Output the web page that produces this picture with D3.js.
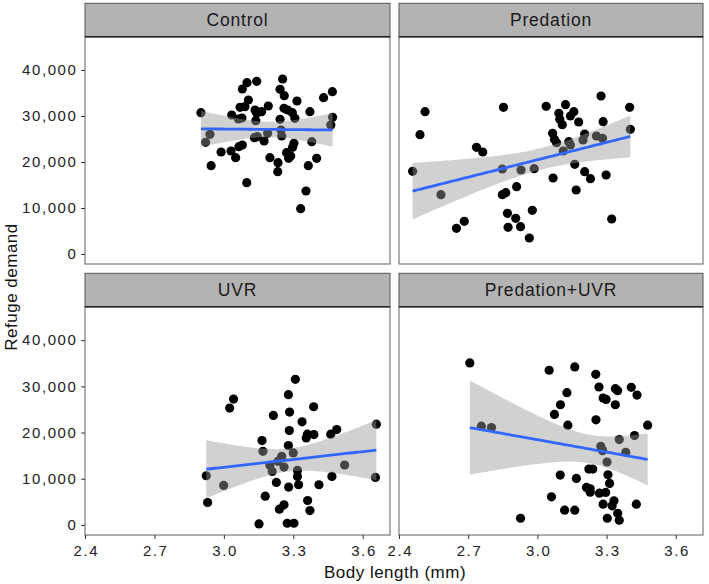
<!DOCTYPE html>
<html><head><meta charset="utf-8">
<script src="https://cdn.jsdelivr.net/npm/d3@7"></script>
<style>body{margin:0;background:#fff;} svg{display:block;}</style>
</head><body>
<svg id="chart" width="709" height="584"></svg>
<script>
const panels = ["Control", "Predation", "UVR", "Predation+UVR"];
const xTicks = [2.4, 2.7, 3.0, 3.3, 3.6];
const yTicks = [0, 10000, 20000, 30000, 40000];

const controlX = [2.901,2.940,2.921,2.945,2.988,3.031,3.051,3.065,3.080,3.034,3.063,3.078,3.070,3.091,3.106,3.080,3.100,3.142,3.099,3.135,3.142,3.163,3.138,3.192,3.132,3.145,3.174,3.189,3.199,3.234,3.233,3.243,3.247,3.250,3.243,3.254,3.261,3.260,3.276,3.296,3.307,3.316,3.303,3.297,3.271,3.280,3.289,3.372,3.380,3.401,3.365,3.355,3.332,3.431,3.469,3.470,3.462];
const controlY = [30726,26016,24277,19205,22176,22393,20944,23335,23697,30219,29349,29567,31885,32030,33479,35871,37247,37537,15510,31306,30581,30944,28987,32175,25292,25509,24567,26233,20944,19857,17900,29277,26958,25654,35798,38044,34422,31668,31306,30726,29494,33262,24060,23190,22031,20799,21306,30944,24422,20799,19205,13698,9857,33987,35291,29712,28045];

const predX = [2.459,2.513,2.491,2.582,2.649,2.683,2.736,2.763,2.853,2.848,2.848,2.863,2.870,2.873,2.906,2.927,2.910,2.929,2.965,2.978,2.986,3.038,3.068,3.066,3.074,3.083,3.093,3.097,3.108,3.122,3.112,3.136,3.143,3.158,3.179,3.162,3.168,3.205,3.198,3.205,3.230,3.256,3.276,3.285,3.282,3.298,3.322,3.400,3.403,3.143];
const predY = [17973,30944,25944,12901,5582,7104,23190,22176,31885,18481,12901,13336,8843,5799,7756,5944,14640,18263,3481,9495,18553,32102,16524,26233,24929,24205,30581,29277,28117,32465,22393,24422,29998,30944,28697,19495,13916,26089,24784,17900,16379,25654,34349,28769,25147,17176,7611,31885,27103,23697];

const uvrX = [2.924,2.930,2.999,3.025,3.042,3.165,3.169,3.179,3.152,3.199,3.209,3.214,3.227,3.240,3.260,3.250,3.260,3.279,3.284,3.283,3.279,3.300,3.280,3.274,3.303,3.309,3.318,3.318,3.323,3.338,3.356,3.361,3.389,3.388,3.362,3.372,3.411,3.462,3.488,3.467,3.522,3.659,3.655,3.234];
const uvrY = [10654,4857,8553,25291,27248,18262,15944,6234,220,12900,11596,23697,9205,3408,4350,14857,12538,28189,24422,20436,17175,15581,8190,365,365,31523,11813,10509,8698,22320,18842,19639,19567,25581,5292,3118,8698,19639,20654,10509,12973,21813,10292,13770];

const predUvrX = [2.707,2.757,2.801,2.927,3.051,3.162,3.128,3.100,3.074,3.132,3.099,3.061,3.118,3.162,3.169,3.223,3.240,3.213,3.229,3.229,3.253,3.267,3.254,3.285,3.298,3.275,3.283,3.269,3.296,3.285,3.302,3.306,3.313,3.303,3.324,3.332,3.348,3.355,3.338,3.348,3.338,3.355,3.383,3.407,3.432,3.421,3.429,3.478];
const predUvrY = [35073,21378,21088,1452,33479,34204,28624,26016,23915,21596,10799,6089,3191,3191,10074,12103,12103,8118,7828,7103,32610,29856,22755,27465,27175,17030,16088,6886,7031,4495,13625,10871,8987,1452,4132,5220,2538,1017,29494,29059,26016,18480,15727,29784,28117,19349,4495,21596];

const panelData = [
  {name: panels[0], xs: controlX, ys: controlY},
  {name: panels[1], xs: predX, ys: predY},
  {name: panels[2], xs: uvrX, ys: uvrY},
  {name: panels[3], xs: predUvrX, ys: predUvrY}
];

const svg = d3.select("#chart");
const FONT = "'Liberation Sans', Arial, Helvetica, sans-serif";

const colX = [[85, 390], [399, 703]];
const rowY = [{strip: [3.3, 36.7], plot: [36.7, 264]}, {strip: [273.3, 306.7], plot: [306.7, 535]}];

const xDomain = [2.4, 3.718];
const yDomain = [-2174, 47239];

// t quantile (0.975) via Cornish-Fisher expansion
function tq(df) {
  const z = 1.959964;
  const z3 = z*z*z, z5 = z3*z*z, z7 = z5*z*z;
  return z + (z3 + z)/(4*df) + (5*z5 + 16*z3 + 3*z)/(96*df*df) + (3*z7 + 19*z5 + 17*z3 - 15*z)/(384*df*df*df);
}

function fitLm(xs, ys) {
  const n = xs.length;
  const mx = d3.mean(xs), my = d3.mean(ys);
  let sxx = 0, sxy = 0;
  for (let i = 0; i < n; i++) { sxx += (xs[i]-mx)**2; sxy += (xs[i]-mx)*(ys[i]-my); }
  const b = sxy / sxx, a = my - b*mx;
  let rss = 0;
  for (let i = 0; i < n; i++) rss += (ys[i] - a - b*xs[i])**2;
  const s = Math.sqrt(rss/(n-2));
  const t = tq(n-2);
  const [x0, x1] = d3.extent(xs);
  return d3.range(80).map(i => {
    const x = x0 + (x1-x0)*i/79;
    const yhat = a + b*x;
    const se = s*Math.sqrt(1/n + (x-mx)**2/sxx);
    return {x, y: yhat, lo: yhat - t*se, hi: yhat + t*se};
  });
}

panelData.forEach((p, i) => {
  const col = i % 2, row = Math.floor(i / 2);
  const [xl, xr] = colX[col];
  const r = rowY[row];
  const x = d3.scaleLinear().domain(xDomain).range([xl, xr]);
  const y = d3.scaleLinear().domain(yDomain).range([r.plot[1], r.plot[0]]);

  const g = svg.append("g");
  g.append("rect").attr("x", xl).attr("y", r.plot[0]).attr("width", xr-xl).attr("height", r.plot[1]-r.plot[0])
    .attr("fill", "#fff");

  const clipId = "clip" + i;
  svg.append("clipPath").attr("id", clipId).append("rect")
    .attr("x", xl).attr("y", r.plot[0]).attr("width", xr-xl).attr("height", r.plot[1]-r.plot[0]);
  const inner = g.append("g").attr("clip-path", `url(#${clipId})`);
  inner.selectAll("circle").data(p.xs.map((v, k) => [v, p.ys[k]])).join("circle")
    .attr("cx", d => x(d[0])).attr("cy", d => y(d[1])).attr("r", 4.6).attr("fill", "#000");

  const fit = fitLm(p.xs, p.ys);
  inner.append("path").datum(fit)
    .attr("d", d3.area().x(d => x(d.x)).y0(d => y(d.lo)).y1(d => y(d.hi)))
    .attr("fill", "#999999").attr("fill-opacity", 0.45);
  inner.append("path").datum(fit)
    .attr("d", d3.line().x(d => x(d.x)).y(d => y(d.y)))
    .attr("fill", "none").attr("stroke", "#3366FF").attr("stroke-width", 2.8);

  g.append("rect").attr("x", xl).attr("y", r.plot[0]).attr("width", xr-xl).attr("height", r.plot[1]-r.plot[0])
    .attr("fill", "none").attr("stroke", "#6e6e6e").attr("stroke-width", 1.1);

  g.append("rect").attr("x", xl).attr("y", r.strip[0]).attr("width", xr-xl).attr("height", r.strip[1]-r.strip[0])
    .attr("fill", "#b3b3b3").attr("stroke", "#555").attr("stroke-width", 1);
  g.append("line").attr("x1", xl).attr("x2", xr).attr("y1", r.strip[1]).attr("y2", r.strip[1])
    .attr("stroke", "#222").attr("stroke-width", 1.6);
  g.append("text").attr("x", (xl+xr)/2).attr("y", (r.strip[0]+r.strip[1])/2 + 6.3)
    .attr("text-anchor", "middle").attr("font-family", FONT).attr("font-size", 17.5)
    .attr("letter-spacing", "0.8px").attr("fill", "#1a1a1a")
    .text(p.name);

  if (col === 0) {
    const ya = g.append("g").attr("transform", `translate(${xl},0)`)
      .call(d3.axisLeft(y).tickValues(yTicks).tickFormat(d3.format(",")).tickSize(4).tickPadding(3.5));
    ya.select(".domain").remove();
    ya.selectAll("line").attr("stroke", "#333");
    ya.selectAll("text").attr("font-family", FONT).attr("font-size", 15)
      .attr("letter-spacing", "1.6px").attr("fill", "#222");
  }
  if (row === 1) {
    const xa = g.append("g").attr("transform", `translate(0,${r.plot[1]})`)
      .call(d3.axisBottom(x).tickValues(xTicks).tickFormat(d3.format(".1f")).tickSize(4).tickPadding(6));
    xa.select(".domain").remove();
    xa.selectAll("line").attr("stroke", "#333");
    xa.selectAll("text").attr("font-family", FONT).attr("font-size", 15)
      .attr("letter-spacing", "1.6px").attr("dx", "0.8px").attr("fill", "#222");
  }
});

svg.append("text").attr("x", 395).attr("y", 578).attr("text-anchor", "middle")
  .attr("font-family", FONT).attr("font-size", 17).attr("letter-spacing", "0.5px").attr("fill", "#111").text("Body length (mm)");
svg.append("text").attr("transform", "translate(17,287) rotate(-90)").attr("text-anchor", "middle")
  .attr("font-family", FONT).attr("font-size", 17).attr("letter-spacing", "0.5px").attr("fill", "#111").text("Refuge demand");
</script>
</body></html>
